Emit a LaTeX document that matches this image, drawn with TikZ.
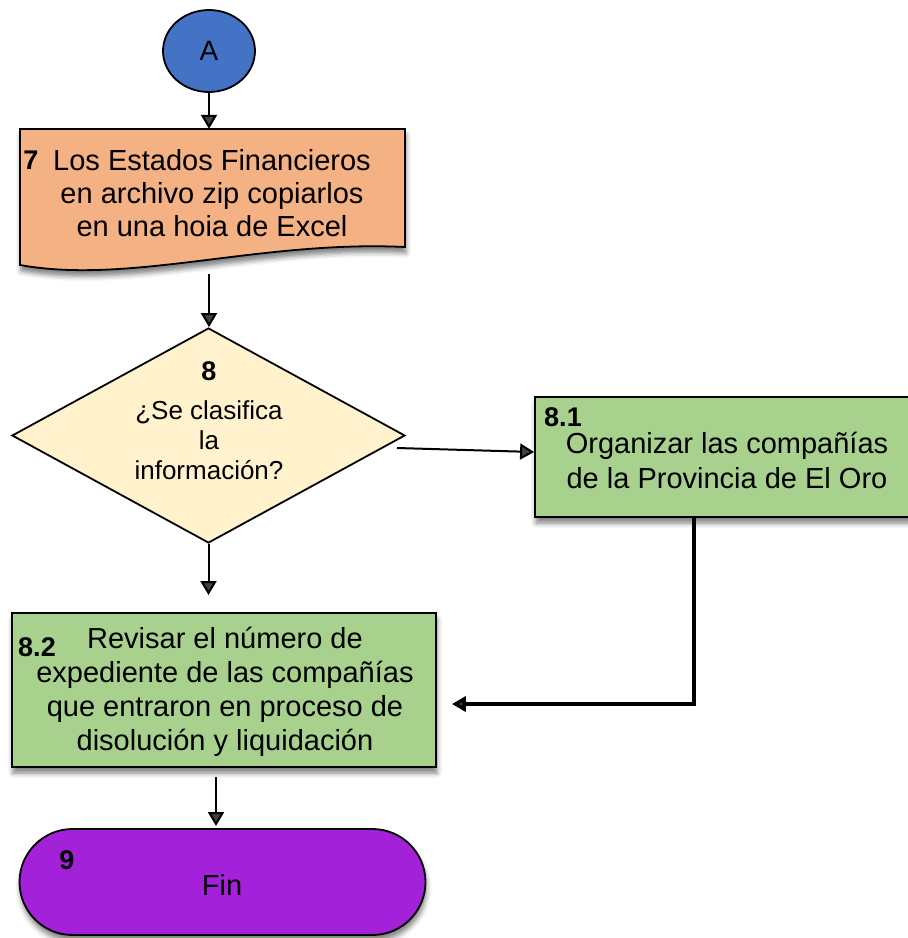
\documentclass[tikz,border=0pt]{standalone}
\usepackage{fontspec}
\setmainfont{Liberation Sans}
\usetikzlibrary{shapes.geometric,shapes.misc,arrows.meta,shadows.blur,calc}
\definecolor{cblue}{HTML}{4472C4}
\definecolor{corange}{HTML}{F4B183}
\definecolor{cyellow}{HTML}{FFF2CC}
\definecolor{cgreen}{HTML}{A9D18E}
\definecolor{cpurple}{HTML}{A321D8}
\begin{document}
\begin{tikzpicture}[x=1pt,y=-1pt,
  shapeline/.style={draw=black, line width=1.8pt},
  shad/.style={blur shadow={shadow xshift=1pt, shadow yshift=-6pt, shadow blur radius=5pt, shadow opacity=50}},
  txt/.style={inner sep=0pt, align=center, font=\fontsize{29}{33}\selectfont},
  num/.style={inner sep=0pt, font=\fontsize{27}{28}\selectfont\bfseries},
  arr/.style={line width=2pt, -{Triangle[length=14pt,width=16pt]}},
  arrthick/.style={line width=3.5pt, -{Triangle[length=14pt,width=15pt]}},
]
\useasboundingbox (0,0) rectangle (908,938);
\clip (0,0) rectangle (908,938);

% Connector A
\node[ellipse, shapeline, fill=cblue, minimum width=92pt, minimum height=82pt, inner sep=0pt,
      font=\fontsize{28}{30}\selectfont] (A) at (209,51) {A};

% Document shape 7
\draw[shapeline, fill=corange, shad]
  (20,129) -- (405,129) -- (405,247) .. controls (260,240) and (130,285) .. (20,265) -- cycle;
\node[inner sep=0pt, minimum width=385pt, minimum height=118pt] (doc) at (212.5,188) {};
\node[num] (n7) at (31,160) {7};
\node[txt] (t7) at (212,193) {Los Estados Financieros\\en archivo zip copiarlos\\en una hoia de Excel};
\coordinate (docb) at (209,274);

% Decision 8
\node[diamond, shapeline, fill=cyellow, minimum width=393pt, minimum height=215pt, inner sep=0pt]
  (D) at (208.5,435.5) {};
\node[num] (n8) at (209,371) {8};
\node[txt, font=\fontsize{26}{30}\selectfont] (t8) at (209,440) {¿Se clasifica\\la\\información?};
\coordinate (dstart) at (397,448);

% Process 8.1
\node[rectangle, shapeline, fill=cgreen, shad, minimum width=380pt, minimum height=120pt, inner sep=0pt]
  (B81) at (725,457) {};
\node[num] (n81) at (563,417) {8.1};
\node[txt, font=\fontsize{29}{35}\selectfont] (t81) at (727,460) {Organizar las compañías\\de la Provincia de El Oro};
\coordinate (c1) at (694,704);

% Process 8.2
\node[rectangle, shapeline, fill=cgreen, shad, minimum width=424pt, minimum height=154pt, inner sep=0pt]
  (B82) at (224,690) {};
\node[num] (n82) at (37,647) {8.2};
\node[txt, font=\fontsize{29}{34}\selectfont] (t82) at (225,692) {Revisar el número de\\expediente de las compañías\\que entraron en proceso de\\disolución y liquidación};
\coordinate (d8end) at (208,595);
\coordinate (b82b) at (216,777);

% Terminal 9
\node[rounded rectangle, shapeline, fill=cpurple, shad, minimum width=406pt, minimum height=106pt, inner sep=0pt]
  (F) at (222.5,882) {};
\node[num] (n9) at (67,860) {9};
\node[txt] (t9) at (222,885) {Fin};
\coordinate (fint) at (216,826);

% Connectors
\draw[arr] (A.south) -- (A.south |- doc.north);
\draw[arr] (docb) -- (docb |- D.north);
\draw[arr] (dstart) -- ($(B81.west)+(0,-5)$);
\draw[arr] (D.south) -- (D.south |- d8end);
\draw[arrthick] (c1 |- B81.south) -- (c1) -- ($(B82.east |- c1)+(15,0)$);
\draw[arr] (b82b) -- (b82b |- fint);
\end{tikzpicture}
\end{document}
